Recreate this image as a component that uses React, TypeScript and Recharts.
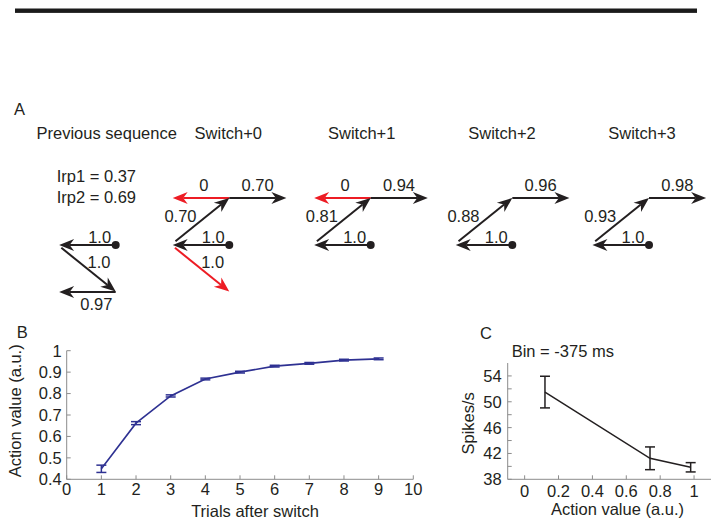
import {
  ComposedChart,
  ErrorBar,
  Line,
  LineChart,
  ReferenceLine,
  Scatter,
  XAxis,
  YAxis,
} from "recharts";

const FONT = '"Liberation Sans", Arial, Helvetica, sans-serif';
const INK = "#231f20";
const AXIS_GREY = "#8c8c8c";
const BLUE = "#2e3192";
const RED = "#ed1c24";
const FS = 16.5;

// ---------- panel A: sequence diagrams ----------
const stageTitles = ["Previous sequence", "Switch+0", "Switch+1", "Switch+2", "Switch+3"];
const titleCenters = [106.7, 228.3, 361.7, 502, 642];
// x of each stage's start dot, in diagram units
const stageCenters = [2.086, 4.134, 6.684, 9.237, 11.702];
const irpLines = ["Irp1 = 0.37", "Irp2 = 0.69"];

// arrow values per stage (null = no arrow)
const topLeftValues = [null, "0", "0", null, null];
const topRightValues = [null, "0.70", "0.94", "0.96", "0.98"];
const upDiagValues = [null, "0.70", "0.81", "0.88", "0.93"];
const midValues = ["1.0", "1.0", "1.0", "1.0", "1.0"];
const downDiagValues = ["1.0", "1.0", null, null, null];
const bottomValues = ["0.97", null, null, null, null];
const downDiagRed = [false, true, false, false, false];

type SlotName = "topLeft" | "topRight" | "upDiag" | "mid" | "downDiag" | "bottom";
const slots: Record<SlotName, { from: [number, number]; to: [number, number]; label: [number, number] }> = {
  topLeft: { from: [0, 1], to: [-1.02, 1], label: [-0.46, 1.28] },
  topRight: { from: [0, 1], to: [1.03, 1], label: [0.51, 1.28] },
  upDiag: { from: [-0.97, 0.08], to: [0, 1], label: [-0.88, 0.61] },
  mid: { from: [0, 0], to: [-1.02, 0], label: [-0.29, 0.17] },
  downDiag: { from: [-0.98, -0.06], to: [0, -0.99], label: [-0.3, -0.37] },
  bottom: { from: [0, -1], to: [-1.02, -1], label: [-0.35, -1.25] },
};
const slotValues: Record<SlotName, (string | null)[]> = {
  topLeft: topLeftValues,
  topRight: topRightValues,
  upDiag: upDiagValues,
  mid: midValues,
  downDiag: downDiagValues,
  bottom: bottomValues,
};

type Edge = { x1: number; y1: number; x2: number; y2: number; color: string };
const edges: Edge[] = [];
const edgeLabels: { x: number; y: number; text: string }[] = [];
stageCenters.forEach((cx, i) => {
  (Object.keys(slots) as SlotName[]).forEach((name) => {
    const v = slotValues[name][i];
    if (v == null) return;
    const s = slots[name];
    const red = name === "topLeft" || (name === "downDiag" && downDiagRed[i]);
    edges.push({
      x1: cx + s.from[0],
      y1: s.from[1],
      x2: cx + s.to[0],
      y2: s.to[1],
      color: red ? RED : INK,
    });
    edgeLabels.push({ x: cx + s.label[0], y: s.label[1], text: v });
  });
});
const startDots = stageCenters.map((c) => ({ x: c, y: 0 }));

// ---------- panel B ----------
const trials = [1, 2, 3, 4, 5, 6, 7, 8, 9];
const actionValue = [0.449, 0.662, 0.789, 0.868, 0.9, 0.928, 0.941, 0.956, 0.962];
const actionErr = [0.017, 0.007, 0.005, 0.004, 0.004, 0.004, 0.004, 0.004, 0.004];
const trialTicks = [0, 1, 2, 3, 4, 5, 6, 7, 8, 9, 10];
const actionTicks = [0.4, 0.5, 0.6, 0.7, 0.8, 0.9, 1];

// ---------- panel C ----------
const binActionValue = [0.12, 0.74, 0.98];
const spikeRate = [51.5, 41.25, 39.86];
const spikeErr = [2.45, 1.76, 0.72];
const valueTicks = [0, 0.2, 0.4, 0.6, 0.8, 1];
const rateTicks = [38, 40, 42, 44, 46, 48, 50, 52, 54];
const rateLabels = [38, 42, 46, 50, 54];

const trialData = trials.map((t, i) => ({ trial: t, value: actionValue[i], err: actionErr[i] }));
const rateData = binActionValue.map((v, i) => ({ av: v, rate: spikeRate[i], err: spikeErr[i] }));

function ArrowShape({ x1, y1, x2, y2, color }: any) {
  const dx = x2 - x1;
  const dy = y2 - y1;
  const len = Math.hypot(dx, dy) || 1;
  const ux = dx / len;
  const uy = dy / len;
  const px = -uy;
  const py = ux;
  const L = 15;
  const W = 6;
  const N = 10.5;
  const bx = x2 - ux * L;
  const by = y2 - uy * L;
  const nx = x2 - ux * N;
  const ny = y2 - uy * N;
  const pts = [
    [x2, y2],
    [bx + px * W, by + py * W],
    [nx, ny],
    [bx - px * W, by - py * W],
  ]
    .map((p) => p.join(","))
    .join(" ");
  return (
    <g>
      <line x1={x1} y1={y1} x2={nx} y2={ny} stroke={color} strokeWidth={2} />
      <polygon points={pts} fill={color} />
    </g>
  );
}

const fmt = (v: number) => String(v);

function xTick(gap: number, show?: (v: number) => boolean) {
  return (props: any) => {
    const { x, y, payload } = props;
    const axisY = y - 8;
    return (
      <g>
        <line x1={x} x2={x} y1={axisY} y2={axisY - 4} stroke={AXIS_GREY} />
        {(!show || show(payload.value)) && (
          <text x={x} y={axisY + gap} textAnchor="middle" fill={INK} fontSize={FS} fontFamily={FONT}>
            {fmt(payload.value)}
          </text>
        )}
      </g>
    );
  };
}

function yTick(gap: number, show?: (v: number) => boolean) {
  return (props: any) => {
    const { x, y, payload } = props;
    const axisX = x + 8;
    return (
      <g>
        <line x1={axisX} x2={axisX + 4} y1={y} y2={y} stroke={AXIS_GREY} />
        {(!show || show(payload.value)) && (
          <text x={axisX - gap} y={y + 5.9} textAnchor="end" fill={INK} fontSize={FS} fontFamily={FONT}>
            {fmt(payload.value)}
          </text>
        )}
      </g>
    );
  };
}

const abs = (left: number, top: number): React.CSSProperties => ({ position: "absolute", left, top });

export default function App() {
  return (
    <div style={{ position: "absolute", left: 0, top: 0, width: 721, height: 530, background: "#fff" }}>
      {/* panel A diagrams */}
      <div style={abs(0, 151.3)}>
        <ComposedChart width={721} height={188} margin={{ top: 0, right: 0, bottom: 0, left: 0 }}>
          <XAxis type="number" dataKey="x" domain={[0, 13]} hide allowDataOverflow />
          <YAxis type="number" dataKey="y" domain={[-2, 2]} hide allowDataOverflow />
          {edges.map((e, i) => (
            <ReferenceLine
              key={i}
              segment={[
                { x: e.x1, y: e.y1 },
                { x: e.x2, y: e.y2 },
              ]}
              ifOverflow="visible"
              shape={(p: any) => <ArrowShape {...p} color={e.color} />}
            />
          ))}
          <Scatter
            data={startDots}
            isAnimationActive={false}
            shape={(p: any) => <circle cx={p.cx} cy={p.cy} r={4} fill={INK} />}
          />
          <Scatter
            data={edgeLabels}
            isAnimationActive={false}
            shape={(p: any) => (
              <text x={p.cx} y={p.cy} dy="0.36em" textAnchor="middle" fill={INK} fontSize={FS} fontFamily={FONT}>
                {p.payload.text}
              </text>
            )}
          />
        </ComposedChart>
      </div>

      {/* panel B */}
      <div style={abs(0, 300)}>
        <LineChart width={440} height={230} data={trialData} margin={{ top: 50.7, right: 26.7, bottom: 10.7, left: 6.7 }}>
          <XAxis
            type="number"
            dataKey="trial"
            domain={[0, 10]}
            ticks={trialTicks}
            height={40}
            tickSize={6}
            tickMargin={2}
            tickLine={false}
            axisLine={{ stroke: AXIS_GREY }}
            tick={xTick(15.7)}
            interval={0}
          />
          <YAxis
            type="number"
            domain={[0.4, 1]}
            ticks={actionTicks}
            width={60}
            tickSize={6}
            tickMargin={2}
            tickLine={false}
            axisLine={{ stroke: AXIS_GREY }}
            tick={yTick(5)}
            interval={0}
          />
          <Line dataKey="value" stroke={BLUE} strokeWidth={1.6} dot={false} isAnimationActive={false}>
            <ErrorBar dataKey="err" direction="y" width={5} stroke={BLUE} strokeWidth={1.5} isAnimationActive={false} />
          </Line>
        </LineChart>
      </div>

      {/* panel C */}
      <div style={abs(430, 300)}>
        <LineChart width={291} height={230} data={rateData} margin={{ top: 63, right: 10, bottom: 10.7, left: 17.7 }}>
          <XAxis
            type="number"
            dataKey="av"
            domain={[-0.1, 1.1]}
            ticks={valueTicks}
            height={40}
            tickSize={6}
            tickMargin={2}
            tickLine={false}
            axisLine={{ stroke: AXIS_GREY }}
            tick={xTick(17.4)}
            interval={0}
          />
          <YAxis
            type="number"
            domain={[38, 56]}
            ticks={rateTicks}
            width={60}
            tickSize={6}
            tickMargin={2}
            tickLine={false}
            axisLine={{ stroke: AXIS_GREY }}
            tick={yTick(6, (v) => rateLabels.includes(v))}
            interval={0}
          />
          <Line dataKey="rate" stroke={INK} strokeWidth={1.5} dot={false} isAnimationActive={false}>
            <ErrorBar dataKey="err" direction="y" width={5} stroke={INK} strokeWidth={1.5} isAnimationActive={false} />
          </Line>
        </LineChart>
      </div>

      {/* texts and rule */}
      <svg
        width={721}
        height={530}
        style={{ position: "absolute", left: 0, top: 0, pointerEvents: "none" }}
        fontFamily={FONT}
        fontSize={FS}
        fill={INK}
      >
        <rect x={15} y={8.5} width={682} height={4.4} fill="#1b1b1b" />
        <text x={14} y={115}>A</text>
        {stageTitles.map((t, i) => (
          <text key={t} x={titleCenters[i]} y={139.3} textAnchor="middle">
            {t}
          </text>
        ))}
        {irpLines.map((t, i) => (
          <text key={t} x={56.7} y={182.3 + i * 20.4}>
            {t}
          </text>
        ))}
        <text x={16.7} y={338.3}>B</text>
        <text x={21} y={410.8} textAnchor="middle" transform="rotate(-90 21 410.8)">
          Action value (a.u.)
        </text>
        <text x={255} y={516.7} textAnchor="middle">
          Trials after switch
        </text>
        <text x={480} y={339.3}>C</text>
        <text x={511.7} y={356.7}>Bin = -375 ms</text>
        <text x={474} y={423.3} textAnchor="middle" transform="rotate(-90 474 423.3)">
          Spikes/s
        </text>
        <text x={617.5} y={515} textAnchor="middle">
          Action value (a.u.)
        </text>
      </svg>
    </div>
  );
}
